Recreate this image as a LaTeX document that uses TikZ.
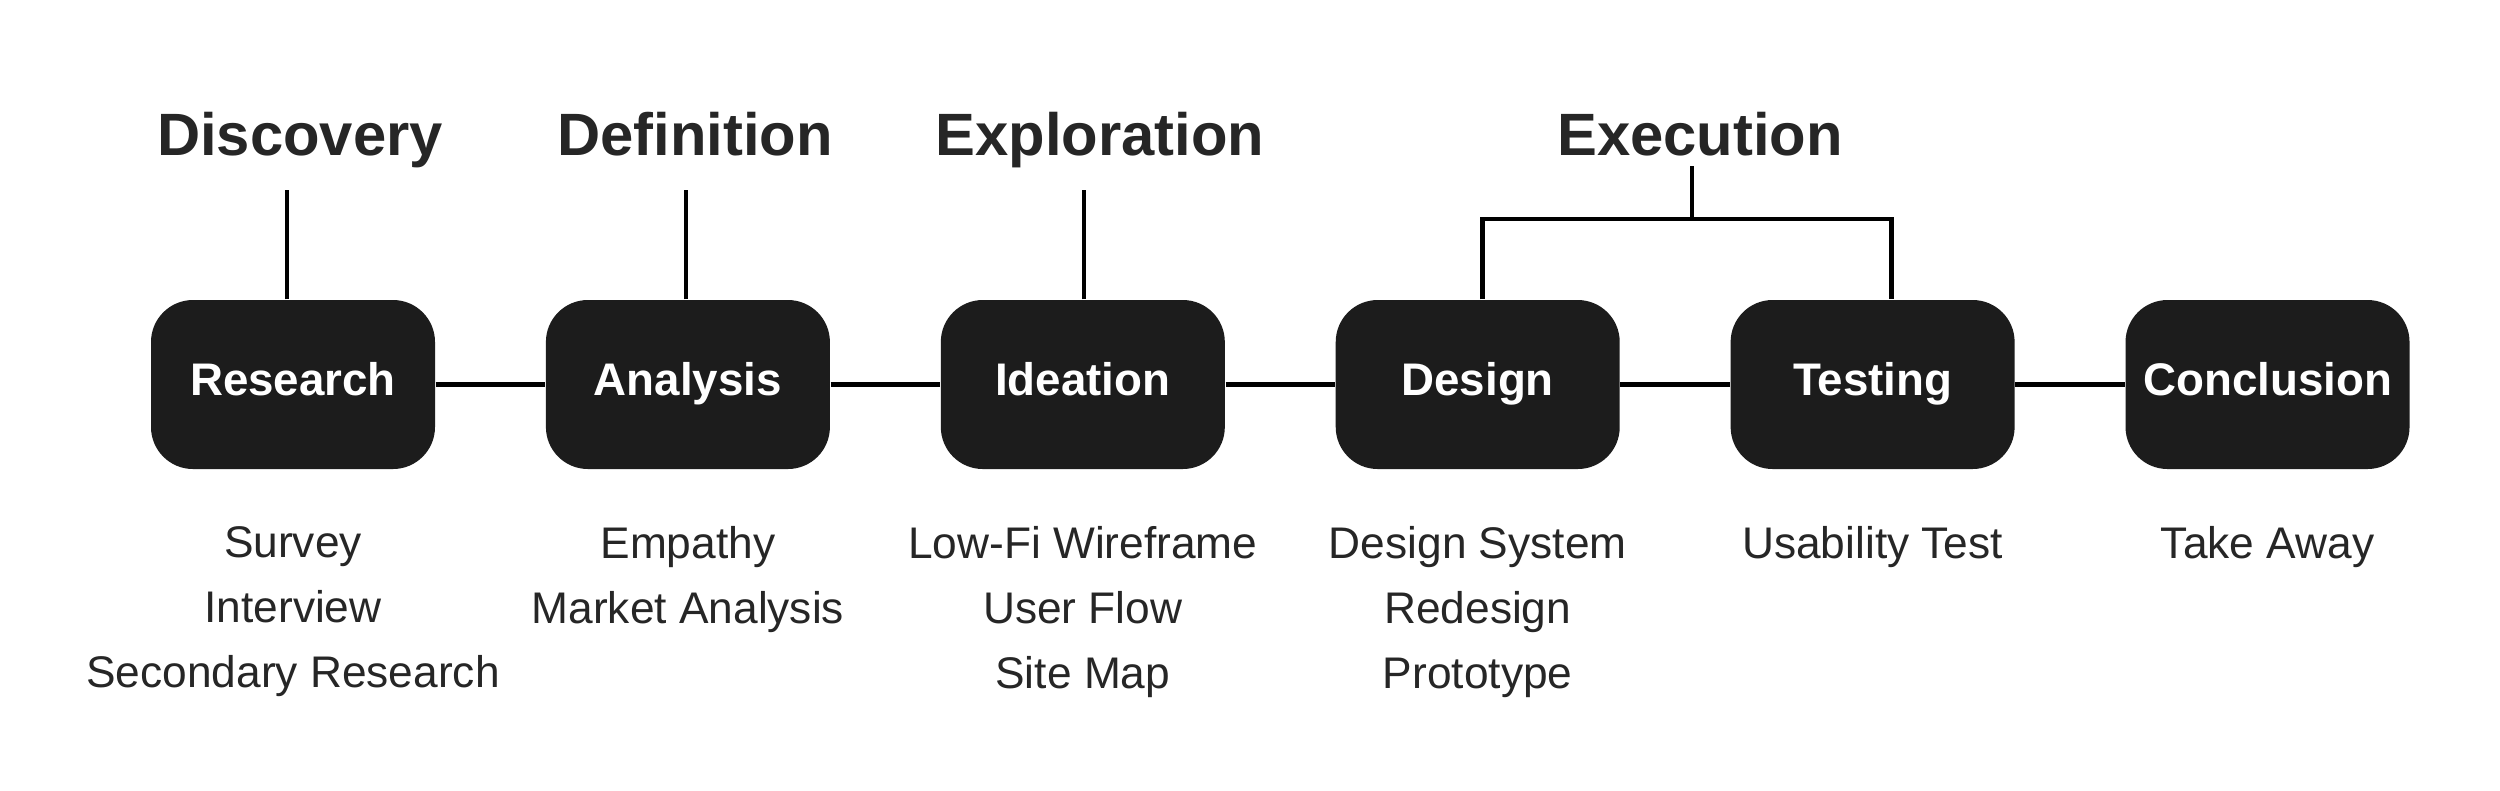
\documentclass[tikz,border=0pt]{standalone}
\usepackage{fontspec}
\setmainfont{Liberation Sans}
\usetikzlibrary{positioning,calc}
\definecolor{boxfill}{HTML}{1C1C1C}
\definecolor{ink}{HTML}{262626}

\begin{document}
\begin{tikzpicture}[
  stg/.style={fill=boxfill,rounded corners=0.42cm,minimum width=2.84cm,minimum height=1.69cm,text height=0.85em,text depth=0.21em,text=white,font=\fontsize{13}{15}\selectfont\bfseries},
  ph/.style={anchor=base,text=ink,font=\fontsize{17}{20}\selectfont\bfseries},
  lst/.style={inner sep=0pt,align=center,text=ink,font=\fontsize{12.6}{18.5}\selectfont},
  ln/.style={line width=1.3pt,black}
]
\fill[white] (0,0) rectangle (25,-7.9);
\useasboundingbox (0,0) rectangle (25,-7.9);
% stages
\node[stg] (res) at (2.93,-3.845) {Research};
\node[stg,right=1.095cm of res] (ana) {Analysis};
\node[stg,right=1.095cm of ana] (ide) {Ideation};
\node[stg,right=1.095cm of ide] (des) {Design};
\node[stg,right=1.095cm of des] (tes) {Testing};
\node[stg,right=1.095cm of tes] (con) {Conclusion};
% phases
\node[ph] (disc) at (3.00,-1.55)  {Discovery};
\node[ph] (defi) at (6.95,-1.55)  {Definition};
\node[ph] (expl) at (11.00,-1.55) {Exploration};
\node[ph] (exec) at (17.00,-1.55) {Execution};
% activities
\node[lst,below=0.56cm of res] (lres) {Survey\\Interview\\Secondary Research};
\node[lst,below=0.56cm of ana] (lana) {Empathy\\Market Analysis};
\node[lst,below=0.56cm of ide] (lide) {Low-Fi Wireframe\\User Flow\\Site Map};
\node[lst,below=0.56cm of des] (ldes) {Design System\\Redesign\\Prototype};
\node[lst,below=0.56cm of tes] (ltes) {Usability Test};
\node[lst,below=0.56cm of con] (lcon) {Take Away};
% timeline
\draw[ln] (res.east) -- (ana.west);
\draw[ln] (ana.east) -- (ide.west);
\draw[ln] (ide.east) -- (des.west);
\draw[ln] (des.east) -- (tes.west);
\draw[ln] (tes.east) -- (con.west);
% phase ticks
\draw[ln] ($(res.north)+(-0.06,0)$) -- ++(0,1.09);
\draw[ln] ($(ana.north)+(-0.02,0)$) -- ++(0,1.09);
\draw[ln] ($(ide.north)+(0.01,0)$) -- ++(0,1.09);
\coordinate (exj) at (16.92,-2.19);
\draw[ln] (exj) -- ++(0,0.53);
\draw[ln] ($(des.north)+(0.05,0)$) -- ($(des.north)+(0.05,0.805)$) -- ($(tes.north)+(0.19,0.805)$) -- ($(tes.north)+(0.19,0)$);
\end{tikzpicture}
\end{document}
